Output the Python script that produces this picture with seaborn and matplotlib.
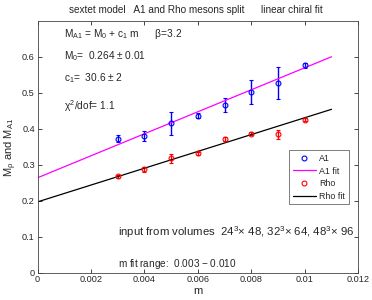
import numpy as np
import pandas as pd
import matplotlib
matplotlib.use("Agg")
import matplotlib.pyplot as plt
from matplotlib.lines import Line2D
import seaborn as sns

### Data

m_vals = [0.003, 0.004, 0.005, 0.006, 0.007, 0.008, 0.009, 0.010]

a1_mass = [0.373, 0.380, 0.415, 0.436, 0.467, 0.502, 0.528, 0.577]
a1_err = [0.010, 0.015, 0.031, 0.007, 0.020, 0.033, 0.044, 0.007]

rho_mass = [0.268, 0.288, 0.318, 0.332, 0.372, 0.387, 0.385, 0.426]
rho_err = [0.005, 0.007, 0.012, 0.005, 0.005, 0.005, 0.012, 0.005]

# fit parameters (A1 from the text box, Rho)
a1_fit_m0, a1_fit_c1 = 0.264, 30.6
rho_fit_m0, rho_fit_c1 = 0.197, 23.4
fit_m = [0.0, 0.011]

x_ticks = [0, 0.002, 0.004, 0.006, 0.008, 0.010, 0.012]
x_tick_labels = ["0", "0.002", "0.004", "0.006", "0.008", "0.01", "0.012"]
y_ticks = [0, 0.1, 0.2, 0.3, 0.4, 0.5, 0.6]
y_tick_labels = ["0", "0.1", "0.2", "0.3", "0.4", "0.5", "0.6"]

fit_df = pd.DataFrame({
    "m": fit_m + fit_m,
    "M": [a1_fit_m0 + a1_fit_c1 * x for x in fit_m] + [rho_fit_m0 + rho_fit_c1 * x for x in fit_m],
    "fit": ["A1 fit"] * 2 + ["Rho fit"] * 2,
})

### Plot

sns.set_style("ticks")
plt.rcParams["font.family"] = ["Liberation Sans", "DejaVu Sans"]
plt.rcParams["mathtext.fontset"] = "custom"
plt.rcParams["mathtext.rm"] = "Liberation Sans"
plt.rcParams["mathtext.it"] = "Liberation Sans"

fig = plt.figure(figsize=(3.72, 3.0), dpi=100)
ax = fig.add_axes([0.101, 0.091, 0.862, 0.839])

ax.errorbar(m_vals, a1_mass, yerr=a1_err, fmt="o", mfc="none", mec="blue",
            ecolor="blue", ms=3.5, mew=0.8, elinewidth=1.0, capsize=1.7, capthick=0.8)
sns.lineplot(data=fit_df[fit_df["fit"] == "A1 fit"], x="m", y="M", color="magenta",
             lw=0.9, ax=ax)
ax.errorbar(m_vals, rho_mass, yerr=rho_err, fmt="o", mfc="none", mec="red",
            ecolor="red", ms=3.5, mew=0.8, elinewidth=1.0, capsize=1.7, capthick=0.8)
sns.lineplot(data=fit_df[fit_df["fit"] == "Rho fit"], x="m", y="M", color="black",
             lw=0.9, ax=ax)

ax.set_xlim(0, 0.012)
ax.set_ylim(0, 0.7)
ax.set_xticks(x_ticks)
ax.set_xticklabels(x_tick_labels)
ax.set_yticks(y_ticks)
ax.set_yticklabels(y_tick_labels)
ax.tick_params(direction="in", length=3, width=0.6, labelsize=6.6, top=True, right=True, pad=2)
for s in ax.spines.values():
    s.set_linewidth(0.6)
    s.set_color("#444444")

ax.set_xlabel("m", fontsize=8, labelpad=1)
ax.set_ylabel(r"M$_\rho$ and M$_{\rm A1}$", fontsize=8, labelpad=2)
fig.text(0.527, 0.967, "sextet model   A1 and Rho mesons split      linear chiral fit",
         ha="center", va="center", fontsize=7.2)

# fit result annotations
ax.text(0.001, 0.663, r"M$_{\rm A1}$ = M$_0$ + c$_1$ m      $\beta$=3.2", fontsize=7.3, va="center")
ax.text(0.001, 0.602, r"M$_0$=  0.264 $\pm$ 0.01", fontsize=7.3, va="center")
ax.text(0.001, 0.541, r"c$_1$=  30.6 $\pm$ 2", fontsize=7.3, va="center")
ax.text(0.001, 0.463, r"$\chi^2$/dof= 1.1", fontsize=7.3, va="center")
ax.text(0.003, 0.113, r"input from volumes  24$^3$$\times$ 48, 32$^3$$\times$ 64, 48$^3$$\times$ 96",
        fontsize=8.2, va="center")
ax.text(0.003, 0.024, r"m fit range:  0.003 $-$ 0.010", fontsize=7.2, va="center")

handles = [
    Line2D([], [], ls="none", marker="o", mfc="none", mec="blue", ms=3.5, mew=0.8),
    Line2D([], [], color="magenta", lw=0.9),
    Line2D([], [], ls="none", marker="o", mfc="none", mec="red", ms=3.5, mew=0.8),
    Line2D([], [], color="black", lw=0.9),
]
leg = ax.legend(handles, ["A1", "A1 fit", "Rho", "Rho fit"],
                loc="lower left", bbox_to_anchor=(0.784, 0.272), borderaxespad=0,
                fontsize=6.4, frameon=True, fancybox=False, handlelength=2.6,
                labelspacing=0.4, borderpad=0.4, handletextpad=0.4)
leg.get_frame().set_edgecolor("#444444")
leg.get_frame().set_linewidth(0.6)

fig.savefig("out.png", dpi=100)
